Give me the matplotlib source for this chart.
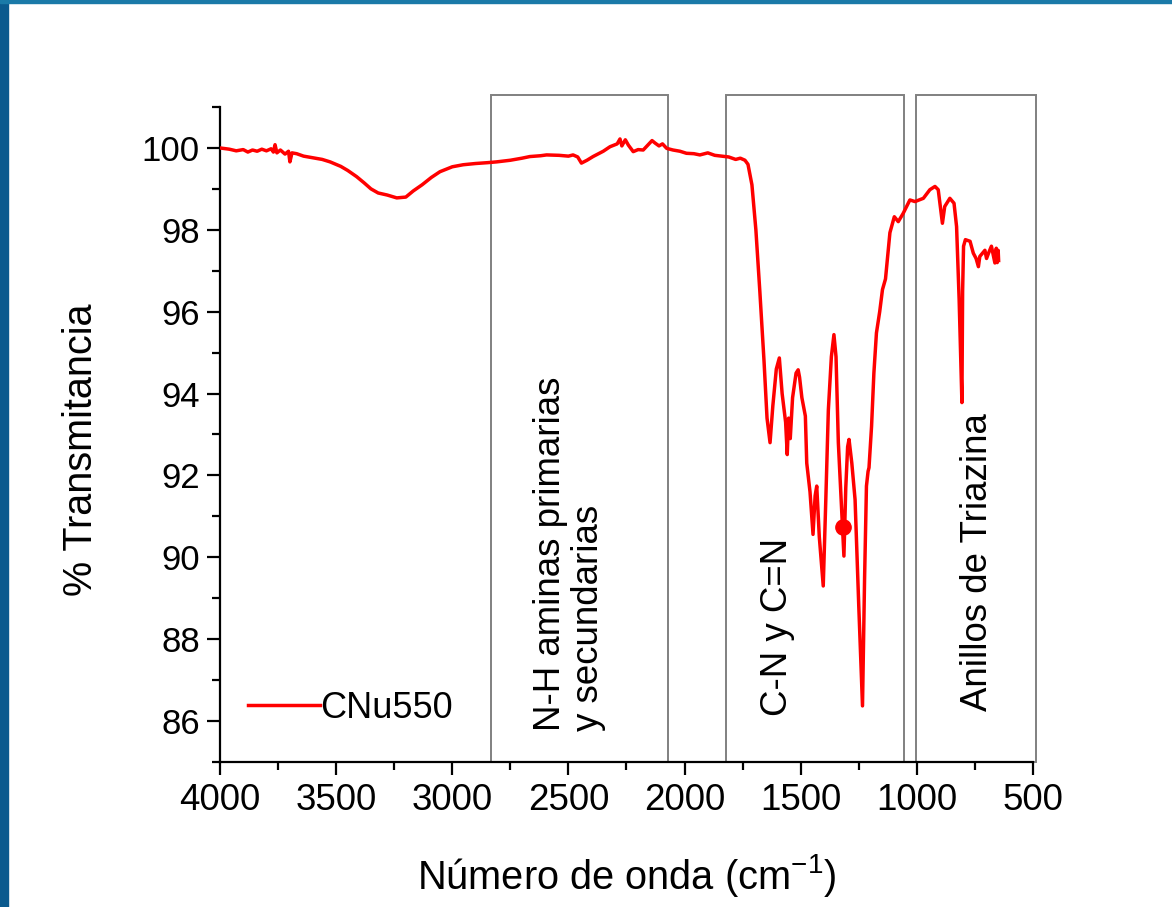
import matplotlib.pyplot as plt
from matplotlib.patches import Rectangle
from matplotlib.ticker import MultipleLocator

plt.rcParams["font.family"] = ["Liberation Sans", "DejaVu Sans"]
plt.rcParams["mathtext.fontset"] = "custom"
plt.rcParams["mathtext.rm"] = "Liberation Sans"

# FTIR spectrum (wavenumber cm-1, % transmittance)
wavenumber = [
    4000, 3960, 3930, 3900, 3880, 3860, 3840, 3820, 3800, 3780, 3770, 3763,
    3755, 3740, 3720, 3705, 3699, 3690, 3670, 3640, 3600, 3560, 3526, 3480,
    3450, 3412, 3380, 3350, 3319, 3280, 3239, 3200, 3168, 3130, 3090, 3053,
    3000, 2953, 2900, 2850, 2809, 2750, 2700, 2666, 2620, 2594, 2540, 2500,
    2480, 2460, 2444, 2420, 2394, 2350, 2321, 2290, 2278, 2270, 2255, 2242,
    2221, 2200, 2178, 2160, 2140, 2127, 2110, 2095, 2077, 2050, 2020, 1992,
    1960, 1934, 1900, 1870, 1840, 1810, 1780, 1760, 1740, 1727, 1710, 1693,
    1676, 1658, 1645, 1632, 1620, 1605, 1592, 1580, 1565, 1558, 1552, 1549,
    1545, 1535, 1520, 1511, 1505, 1495, 1480, 1474, 1460, 1447, 1438, 1431,
    1420, 1403, 1392, 1381, 1368, 1357, 1348, 1338, 1328, 1320, 1314, 1306,
    1298, 1292, 1280, 1266, 1250, 1234, 1225, 1217, 1210, 1206, 1195, 1185,
    1174, 1160, 1148, 1135, 1116, 1097, 1080, 1059, 1030, 1008, 972, 944,
    922, 908, 895, 890, 880, 858, 840, 829, 818, 806, 803, 799, 791, 771,
    757, 745, 735, 729, 707, 700, 690, 679, 670, 664, 658, 654, 650, 648,
]
transmittance = [
    100.00, 99.97, 99.93, 99.96, 99.90, 99.95, 99.92, 99.97, 99.93, 99.98, 99.90, 100.08,
    99.88, 99.95, 99.85, 99.92, 99.66, 99.88, 99.86, 99.80, 99.76, 99.72, 99.66, 99.55,
    99.45, 99.30, 99.15, 99.00, 98.90, 98.85, 98.78, 98.80, 98.95, 99.10, 99.28, 99.42,
    99.54, 99.59, 99.62, 99.64, 99.66, 99.70, 99.75, 99.79, 99.81, 99.83, 99.82, 99.80,
    99.83, 99.78, 99.63, 99.70, 99.79, 99.92, 100.03, 100.10, 100.22, 100.05, 100.20, 100.07,
    99.91, 99.96, 99.95, 100.06, 100.18, 100.12, 100.05, 100.10, 99.99, 99.95, 99.92, 99.87,
    99.86, 99.83, 99.88, 99.82, 99.80, 99.78, 99.72, 99.75, 99.70, 99.60, 99.10, 98.00,
    96.50, 94.80, 93.40, 92.80, 93.70, 94.60, 94.87, 94.00, 93.30, 92.51, 93.40, 93.24,
    92.90, 93.90, 94.50, 94.58, 94.40, 93.90, 93.45, 92.30, 91.60, 90.56, 91.50, 91.74,
    90.50, 89.30, 91.40, 93.60, 94.90, 95.44, 94.90, 92.80, 91.66, 90.74, 90.03, 91.70,
    92.70, 92.88, 92.30, 91.41, 88.80, 86.37, 89.50, 91.74, 92.10, 92.19, 93.20, 94.50,
    95.48, 96.00, 96.54, 96.80, 97.93, 98.32, 98.20, 98.40, 98.73, 98.69, 98.77, 98.98,
    99.06, 98.98, 98.40, 98.16, 98.57, 98.77, 98.65, 98.08, 96.30, 93.78, 96.50, 97.60, 97.76, 97.72,
    97.43, 97.30, 97.10, 97.35, 97.50, 97.30, 97.45, 97.60, 97.35, 97.19, 97.55, 97.20, 97.50, 97.25,
]

marker_w = [1320]
marker_t = [90.74]

# assignment regions (left edge, right edge in cm-1) and their labels
region_left = [2833, 1822, 1004]
region_right = [2071, 1055, 487]
region_label = ["N-H aminas primarias\ny secundarias", "C-N y C=N", "Anillos de Triazina"]
label_w = [2495, 1598, 737]
label_t = [85.76, 86.12, 86.24]

fig = plt.figure(figsize=(11.72, 9.07), dpi=100)
ax = fig.add_axes([0.1877, 0.1599, 0.6937, 0.7221])

# slide frame on the left and top edge
fig.patches.append(Rectangle((0, 0), 0.0068, 1, transform=fig.transFigure,
                             color="#0b5a8e", zorder=0))
fig.patches.append(Rectangle((0, 0.9967), 1, 0.0033, transform=fig.transFigure,
                             color="#1a7aa8", zorder=0))

ax.plot(wavenumber, transmittance, color="#ff0000", lw=2.5, label="CNu550", zorder=3)
ax.plot(marker_w, marker_t, "o", color="#ff0000", ms=11, zorder=4)

for left, right, text, tw, tt in zip(region_left, region_right, region_label, label_w, label_t):
    ax.add_patch(Rectangle((left, 85), right - left, 101.29 - 85, fill=False,
                           edgecolor="#808080", lw=1.4, clip_on=False, zorder=2))
    ax.text(tw, tt, text, rotation=90, ha="center", va="bottom",
            multialignment="left", fontsize=26.4, linespacing=1.1)

ax.set_xlim(4000, 500)
ax.set_ylim(85, 101)
ax.xaxis.set_major_locator(MultipleLocator(500))
ax.xaxis.set_minor_locator(MultipleLocator(250))
ax.yaxis.set_minor_locator(MultipleLocator(1))
ax.set_yticks(range(86, 101, 2))

ax.spines["top"].set_visible(False)
ax.spines["right"].set_visible(False)
ax.spines["left"].set_linewidth(1.6)
ax.spines["bottom"].set_linewidth(1.6)
ax.tick_params(which="major", direction="out", length=9.5, width=1.6)
ax.tick_params(which="minor", direction="out", length=6, width=1.6)
ax.tick_params(axis="x", which="major", labelsize=26.5, pad=6)
ax.tick_params(axis="y", which="major", labelsize=25, pad=5)

ax.set_xlabel("Número de onda (cm$^{-1}$)", fontsize=28.6)
ax.set_ylabel("% Transmitancia", fontsize=28.5)
ax.xaxis.set_label_coords(0.5, -0.138)
ax.yaxis.set_label_coords(-0.148, 0.476)

ax.legend(loc="center left", bbox_to_anchor=(0.034, 0.082), frameon=False,
          fontsize=26, handlelength=2.0, handletextpad=0.0, borderpad=0,
          borderaxespad=0)

fig.savefig("out.png", dpi=100)
